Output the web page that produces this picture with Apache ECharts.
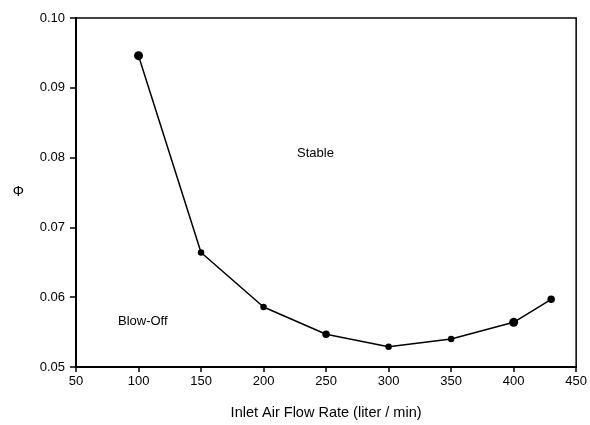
<!DOCTYPE html>
<html><head><meta charset="utf-8">
<script src="https://cdn.jsdelivr.net/npm/echarts@6/dist/echarts.min.js"></script>
<style>html,body{margin:0;padding:0;background:#fff;overflow:hidden;width:100%;height:100%}#c{width:100vw;height:100vh}</style>
</head><body><div id="c"></div>
<script>
var flowRates = [100, 150, 200, 250, 300, 350, 400, 430];
var phiValues = [0.0946, 0.0664, 0.0586, 0.0547, 0.0529, 0.0540, 0.0564, 0.0597];
var xTicks = [50, 100, 150, 200, 250, 300, 350, 400, 450];
var yTicks = [0.05, 0.06, 0.07, 0.08, 0.09, 0.10];
var bigIdx = [0, 6];
var midIdx = [3, 7];

var chart = echarts.init(document.getElementById('c'), null, {renderer: 'canvas'});
var F = 'Liberation Sans, Arial, sans-serif';
chart.setOption({
  animation: false,
  grid: {left: 76, right: 10, top: 18, bottom: 53, show: true, borderColor: '#000', borderWidth: 1.5, backgroundColor: 'transparent'},
  xAxis: {
    type: 'value', min: xTicks[0], max: xTicks[xTicks.length - 1], interval: 50,
    name: 'Inlet Air Flow Rate (liter / min)', nameLocation: 'middle', nameGap: 38,
    nameTextStyle: {fontFamily: F, fontSize: 14.5, color: '#000'},
    axisLine: {show: true, lineStyle: {color: '#000', width: 2}},
    axisTick: {show: true, inside: false, length: 5, lineStyle: {color: '#000', width: 1.5}},
    axisLabel: {fontFamily: F, fontSize: 13, color: '#000', margin: 8},
    splitLine: {show: false}
  },
  yAxis: {
    type: 'value', min: yTicks[0], max: yTicks[yTicks.length - 1], interval: 0.01,
    name: 'Φ', nameLocation: 'middle', nameGap: 52, nameRotate: 0,
    nameTextStyle: {fontFamily: F, fontSize: 14, color: '#000'},
    axisLine: {show: true, lineStyle: {color: '#000', width: 2}},
    axisTick: {show: true, inside: false, length: 6, lineStyle: {color: '#000', width: 1.5}},
    axisLabel: {fontFamily: F, fontSize: 13, color: '#000', margin: 11, formatter: function (v) { return v.toFixed(2); }},
    splitLine: {show: false}
  },
  series: [{
    type: 'line',
    data: flowRates.map(function (x, i) { return [x, phiValues[i]]; }),
    symbol: 'circle',
    symbolSize: function (v, p) { return bigIdx.indexOf(p.dataIndex) >= 0 ? 9 : (midIdx.indexOf(p.dataIndex) >= 0 ? 7.5 : 6.5); },
    itemStyle: {color: '#000'},
    lineStyle: {color: '#000', width: 1.5}
  }],
  graphic: [
    {type: 'text', left: 297, top: 147, style: {text: 'Stable', font: '13px ' + F, fill: '#000'}},
    {type: 'text', left: 118, top: 315, style: {text: 'Blow-Off', font: '13px ' + F, fill: '#000'}}
  ]
});
</script></body></html>
